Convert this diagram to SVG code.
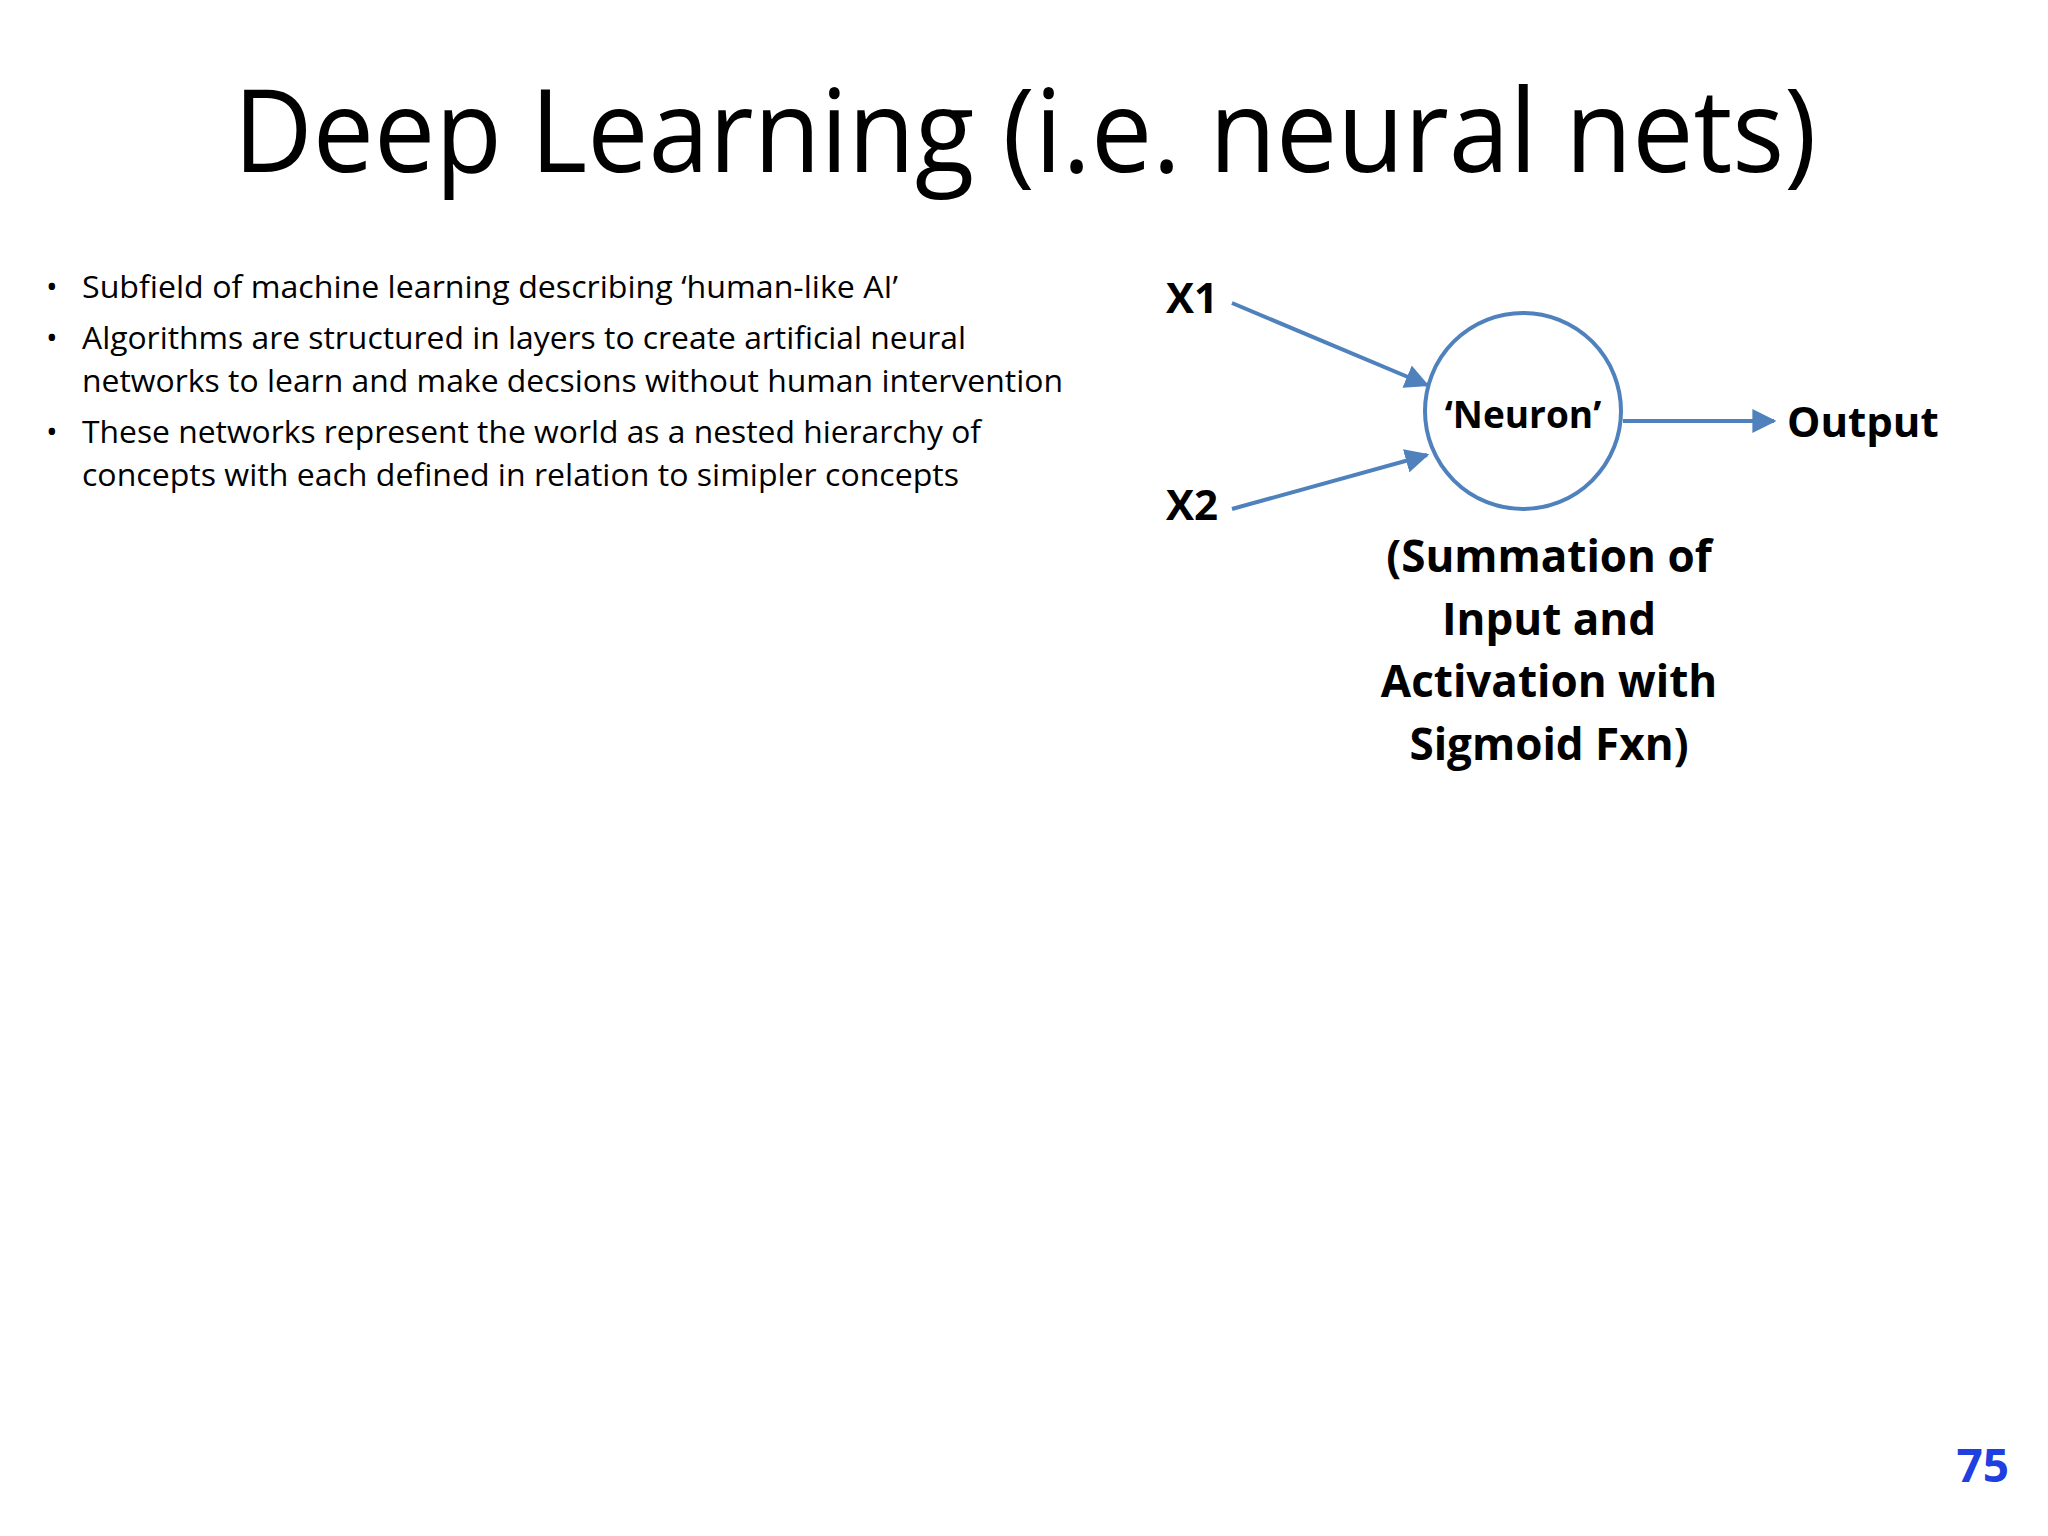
<svg xmlns="http://www.w3.org/2000/svg" width="2048" height="1536" viewBox="0 0 2048 1536">
<style>
text{font-family:"Open Sans","Liberation Sans",sans-serif;fill:#000}
.b{font-size:31px}
.lb{font-size:42px;font-weight:bold}
.conn line{stroke:#4F81BD;stroke-width:4;fill:none}
</style>
<defs><marker id="ah" viewBox="0 0 10 10" refX="9" refY="5" markerWidth="6" markerHeight="6" orient="auto" markerUnits="strokeWidth"><path d="M0,0L10,5L0,10z" fill="#4F81BD"/></marker></defs>
<rect width="2048" height="1536" fill="#fff"/>
<text x="1025" y="172" font-size="116" text-anchor="middle" textLength="1583" lengthAdjust="spacingAndGlyphs">Deep Learning (i.e. neural nets)</text>
<g id="bullets">
<text class="b" x="46" y="298">•</text><text class="b" x="46" y="349">•</text><text class="b" x="46" y="443">•</text>
<text class="b" x="82" y="298" textLength="816" lengthAdjust="spacingAndGlyphs">Subfield of machine learning describing ‘human-like AI’</text>
<text class="b" x="82" y="349" textLength="884" lengthAdjust="spacingAndGlyphs">Algorithms are structured in layers to create artificial neural</text>
<text class="b" x="82" y="392" textLength="981" lengthAdjust="spacingAndGlyphs">networks to learn and make decsions without human intervention</text>
<text class="b" x="82" y="443" textLength="899" lengthAdjust="spacingAndGlyphs">These networks represent the world as a nested hierarchy of</text>
<text class="b" x="82" y="486" textLength="877" lengthAdjust="spacingAndGlyphs">concepts with each defined in relation to simipler concepts</text>
</g>
<g id="x1"><text class="lb" x="1166" y="313">X1</text></g>
<g id="x2"><text class="lb" x="1166" y="520">X2</text></g>
<g id="neuron"><circle cx="1523" cy="411" r="98" fill="#fff" stroke="#4F81BD" stroke-width="4"/>
<text x="1523" y="428" font-size="37" font-weight="bold" text-anchor="middle">‘Neuron’</text></g>
<g id="output"><text class="lb" x="1787" y="437">Output</text></g>
<g id="caption" font-size="44" font-weight="bold" text-anchor="middle">
<text x="1549" y="572" font-size="44" font-weight="bold" text-anchor="middle">(Summation of</text>
<text x="1549" y="635" font-size="44" font-weight="bold" text-anchor="middle">Input and</text>
<text x="1549" y="697" font-size="44" font-weight="bold" text-anchor="middle">Activation with</text>
<text x="1549" y="760" font-size="44" font-weight="bold" text-anchor="middle">Sigmoid Fxn)</text>
</g>
<g class="conn">
<line x1="1232" y1="303" x2="1427" y2="385" marker-end="url(#ah)"/>
<line x1="1232" y1="509" x2="1427" y2="455" marker-end="url(#ah)"/>
<line x1="1623" y1="421" x2="1774" y2="421" marker-end="url(#ah)"/>
</g>
<text x="2009" y="1482" font-size="46" font-weight="bold" text-anchor="end" style="fill:#1F3FE0">75</text>
</svg>
